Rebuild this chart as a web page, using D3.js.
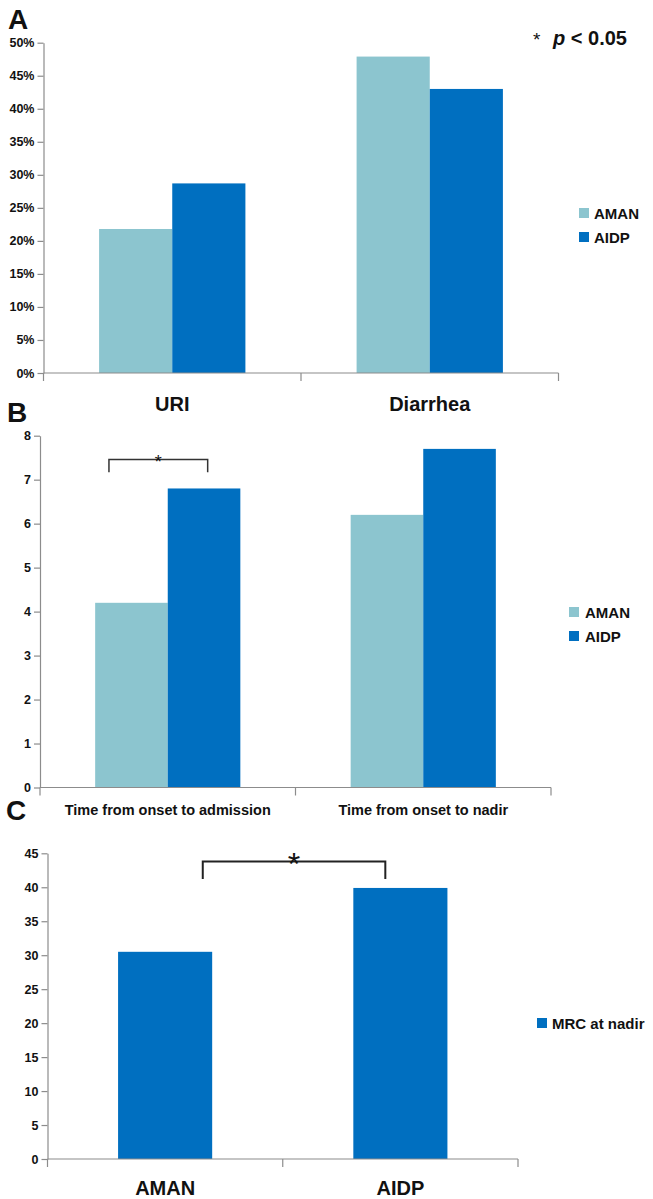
<!DOCTYPE html>
<html>
<head>
<meta charset="utf-8">
<script src="https://cdn.jsdelivr.net/npm/d3@7"></script>
<style>
  html, body { margin: 0; padding: 0; background: #fff; }
  svg { display: block; font-family: "Liberation Sans", Arial, Helvetica, sans-serif; }
</style>
</head>
<body>
<svg id="chart" width="653" height="1199"></svg>
<script>
// ---------- data ----------
const seriesNames = ["AMAN", "AIDP"];
const seriesColors = ["#8cc5cf", "#006fc0"];

const catsA = ["URI", "Diarrhea"];
const amanA = [0.218, 0.479];
const aidpA = [0.287, 0.430];
const ticksA = [0, 0.05, 0.10, 0.15, 0.20, 0.25, 0.30, 0.35, 0.40, 0.45, 0.50];

const catsB = ["Time from onset to admission", "Time from onset to nadir"];
const amanB = [4.2, 6.2];
const aidpB = [6.8, 7.7];
const ticksB = [0, 1, 2, 3, 4, 5, 6, 7, 8];

const catsC = ["AMAN", "AIDP"];
const mrcC = [30.5, 39.9];
const seriesC = "MRC at nadir";
const ticksC = [0, 5, 10, 15, 20, 25, 30, 35, 40, 45];

const svg = d3.select("#chart");
const axisGray = "#8c8c8c";
const textCol = "#111";

function styleAxis(g) {
  g.select(".domain").attr("stroke", axisGray).attr("stroke-width", 1.2);
  g.selectAll(".tick line").attr("stroke", axisGray).attr("stroke-width", 1.2);
  g.selectAll(".tick text").attr("fill", textCol).attr("font-weight", "bold")
    .attr("font-size", 12.5).attr("font-family", "'Liberation Sans', Arial, sans-serif");
}

function drawXAxis(x, yBase, cats, labelSize, labelY) {
  const g = svg.append("g");
  g.append("line").attr("x1", x.range()[0]).attr("x2", x.range()[1])
    .attr("y1", yBase).attr("y2", yBase).attr("stroke", axisGray).attr("stroke-width", 1.2);
  const bounds = cats.map(c => x(c)).concat([x(cats[cats.length - 1]) + x.bandwidth()]);
  g.selectAll("line.xt").data(bounds).join("line").attr("class", "xt")
    .attr("x1", d => d).attr("x2", d => d).attr("y1", yBase).attr("y2", yBase + 8)
    .attr("stroke", axisGray).attr("stroke-width", 1.2);
  g.selectAll("text.xl").data(cats).join("text").attr("class", "xl")
    .attr("x", d => x(d) + x.bandwidth() / 2).attr("y", labelY)
    .attr("text-anchor", "middle").attr("font-weight", "bold")
    .attr("font-size", labelSize).attr("fill", textCol).text(d => d);
}

function legend(items, colors, x, y0, gap, textOff) {
  const g = svg.append("g");
  items.forEach((name, i) => {
    const cy = y0 + i * gap;
    g.append("rect").attr("x", x).attr("y", cy - 5).attr("width", 10).attr("height", 10)
      .attr("fill", colors[i]);
    g.append("text").attr("x", x + 10 + textOff).attr("y", cy + 5.5)
      .attr("font-weight", "bold").attr("font-size", 15).attr("fill", textCol).text(name);
  });
}

function panelLetter(t, x, y) {
  svg.append("text").attr("x", x).attr("y", y).attr("font-weight", "bold")
    .attr("font-size", 28).attr("fill", textCol).text(t);
}

function groupedPanel(cfg) {
  const x0 = d3.scaleBand().domain(cfg.cats).range(cfg.xRange).paddingInner(0).paddingOuter(0);
  const x1 = d3.scaleBand().domain(seriesNames).range([0, x0.bandwidth()])
    .paddingInner(0).paddingOuter(0.76);
  const y = d3.scaleLinear().domain(cfg.yDomain).range(cfg.yRange);
  const gy = svg.append("g").attr("transform", `translate(${cfg.xRange[0]},0)`)
    .call(d3.axisLeft(y).tickValues(cfg.ticks).tickFormat(cfg.fmt).tickSize(6).tickSizeOuter(0).tickPadding(3));
  styleAxis(gy);
  const rows = cfg.cats.map((c, i) => ({ cat: c, vals: [cfg.a[i], cfg.b[i]] }));
  const g = svg.append("g");
  rows.forEach(r => {
    r.vals.forEach((v, j) => {
      g.append("rect")
        .attr("x", x0(r.cat) + x1(seriesNames[j]))
        .attr("width", x1.bandwidth())
        .attr("y", y(v)).attr("height", y(0) - y(v))
        .attr("fill", seriesColors[j]);
    });
  });
  drawXAxis(x0, y(0), cfg.cats, cfg.labelSize, cfg.labelY);
  return { x0, x1, y };
}

// ---------- Panel A ----------
panelLetter("A", 8, 29);
groupedPanel({
  cats: catsA, a: amanA, b: aidpA, ticks: ticksA, fmt: d3.format(".0%"),
  xRange: [43.5, 558.5], yDomain: [0, 0.5], yRange: [373, 42.7],
  labelSize: 20, labelY: 411
});
legend(seriesNames, seriesColors, 579, 213, 24, 5);
svg.append("text").attr("x", 533).attr("y", 46).attr("font-size", 19).attr("fill", textCol).text("*");
const pt = svg.append("text").attr("x", 553).attr("y", 45).attr("font-size", 20)
  .attr("font-weight", "bold").attr("fill", textCol);
pt.append("tspan").attr("font-style", "italic").text("p");
pt.append("tspan").text(" < 0.05");

// ---------- Panel B ----------
panelLetter("B", 7, 422);
const pb = groupedPanel({
  cats: catsB, a: amanB, b: aidpB, ticks: ticksB, fmt: d3.format("d"),
  xRange: [40, 551], yDomain: [0, 8], yRange: [787.5, 435.7],
  labelSize: 14.5, labelY: 815
});
legend(seriesNames, seriesColors, 569, 612, 24, 6);
{
  const c = catsB[0];
  const xl = pb.x0(c) + pb.x1("AMAN") + pb.x1.bandwidth() * 0.19;
  const xr = pb.x0(c) + pb.x1("AIDP") + pb.x1.bandwidth() * 0.55;
  const yt = pb.y(7.46), yb = pb.y(7.17);
  svg.append("path").attr("d", `M${xl},${yb}V${yt}H${xr}V${yb}`)
    .attr("fill", "none").attr("stroke", "#333").attr("stroke-width", 1.5);
  svg.append("text").attr("x", (xl + xr) / 2).attr("y", yt + 9).attr("text-anchor", "middle")
    .attr("font-size", 18).attr("fill", textCol).text("*");
}

// ---------- Panel C ----------
panelLetter("C", 6, 820);
{
  const x = d3.scaleBand().domain(catsC).range([47.5, 518]).paddingInner(0.6).paddingOuter(0.3);
  const xAxisBand = d3.scaleBand().domain(catsC).range([47.5, 518]).padding(0);
  const y = d3.scaleLinear().domain([0, 45]).range([1159, 853.3]);
  const gy = svg.append("g").attr("transform", "translate(47.5,0)")
    .call(d3.axisLeft(y).tickValues(ticksC).tickFormat(d3.format("d")).tickSize(6).tickSizeOuter(0).tickPadding(3));
  styleAxis(gy);
  svg.append("g").selectAll("rect").data(catsC.map((c, i) => ({ c, v: mrcC[i] }))).join("rect")
    .attr("x", d => x(d.c)).attr("width", x.bandwidth())
    .attr("y", d => y(d.v)).attr("height", d => y(0) - y(d.v))
    .attr("fill", seriesColors[1]);
  drawXAxis(xAxisBand, y(0), catsC, 20, 1195);
  legend([seriesC], [seriesColors[1]], 537, 1023, 24, 5);
  const xl = x("AMAN") + x.bandwidth() * 0.9;
  const xr = x("AIDP") + x.bandwidth() * 0.34;
  const yt = y(43.8), yb = y(41.2);
  svg.append("path").attr("d", `M${xl},${yb}V${yt}H${xr}V${yb}`)
    .attr("fill", "none").attr("stroke", "#222").attr("stroke-width", 2);
  svg.append("text").attr("x", (xl + xr) / 2).attr("y", yt + 14).attr("text-anchor", "middle")
    .attr("font-size", 32).attr("fill", textCol).text("*");
}
</script>
</body>
</html>
